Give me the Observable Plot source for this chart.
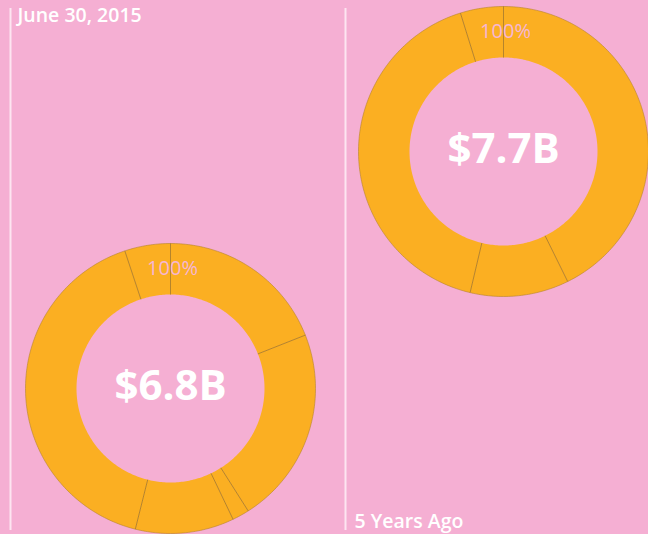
<!DOCTYPE html>
<html>
<head>
<meta charset="utf-8">
<script src="https://cdn.jsdelivr.net/npm/d3@7"></script>
<script src="https://cdn.jsdelivr.net/npm/@observablehq/plot@0.6"></script>
<style>
  html, body { margin: 0; padding: 0; background: #f5afd3; }
  #chart svg { display: block; }
</style>
</head>
<body>
<div id="chart"></div>
<script>
// ---- data ----
const panelLabels = ["June 30, 2015", "5 Years Ago"];
const totalLabels = ["$6.8B", "$7.7B"];
const shareLabel = "100%";
const sharesNow = [19.0, 22.0, 1.9, 11.0, 41.0, 5.1];     // % of ring, clockwise from top
const sharesPast = [42.7, 11.0, 41.5, 4.8];

// ---- layout ----
const W = 648, H = 534;
const centers = [{cx: 170, cy: 388}, {cx: 503, cy: 151}];
const rOuter = 145, rInner = 94;
const labelPos = [{x: 17, y: 15}, {x: 354, y: 521}];
const dividers = [10, 345];

const colors = {bg: "#f5afd3", slice: "#fbaf22", edge: "#b5842c", label: "#f6b6d5", rule: "#fde5f1"};

const seriesList = [sharesNow, sharesPast];
const pie = d3.pie().sort(null).value(d => d);

const polys = [], outline = [], seps = [], centerText = [], pctText = [], panelText = [];
seriesList.forEach((vals, p) => {
  const {cx, cy} = centers[p];
  const arcs = pie(vals);
  arcs.forEach((a, i) => {
    const n = Math.max(4, Math.ceil((a.endAngle - a.startAngle) * 60));
    const pts = [];
    for (let k = 0; k <= n; k++) {
      const t = a.startAngle + (a.endAngle - a.startAngle) * k / n;
      pts.push({x: cx + rOuter * Math.sin(t), y: cy - rOuter * Math.cos(t)});
    }
    for (let k = n; k >= 0; k--) {
      const t = a.startAngle + (a.endAngle - a.startAngle) * k / n;
      pts.push({x: cx + rInner * Math.sin(t), y: cy - rInner * Math.cos(t)});
    }
    pts.forEach(q => polys.push({...q, id: p + "-" + i}));
    seps.push({
      x1: cx + rInner * Math.sin(a.startAngle), y1: cy - rInner * Math.cos(a.startAngle),
      x2: cx + rOuter * Math.sin(a.startAngle), y2: cy - rOuter * Math.cos(a.startAngle)
    });
  });
  for (let k = 0; k <= 360; k++) {
    const t = k / 360 * 2 * Math.PI;
    outline.push({x: cx + rOuter * Math.sin(t), y: cy - rOuter * Math.cos(t), id: p});
  }
  centerText.push({x: cx, y: cy - 2, text: totalLabels[p]});
  pctText.push({x: cx + 2, y: cy - (rOuter + rInner) / 2, text: shareLabel});
  panelText.push({x: labelPos[p].x, y: labelPos[p].y, text: panelLabels[p]});
});

const chart = Plot.plot({
  width: W, height: H,
  margin: 0,
  x: {domain: [0, W], range: [0, W], axis: null},
  y: {domain: [0, H], range: [0, H], axis: null},
  style: {background: colors.bg, fontFamily: "Open Sans"},
  marks: [
    Plot.ruleX(dividers, {y1: 8, y2: 530, stroke: colors.rule, strokeWidth: 2}),
    Plot.line(polys, {x: "x", y: "y", z: "id", fill: colors.slice, stroke: null}),
    Plot.line(outline, {x: "x", y: "y", z: "id", stroke: colors.edge, strokeWidth: 0.6}),
    Plot.link(seps, {x1: "x1", y1: "y1", x2: "x2", y2: "y2", stroke: colors.edge, strokeWidth: 1}),
    Plot.text(pctText, {x: "x", y: "y", text: "text", fill: colors.label, fontSize: 20, fontFamily: "Open Sans"}),
    Plot.text(centerText, {x: "x", y: "y", text: "text", fill: "white", fontSize: 42, fontWeight: "bold", fontFamily: "Open Sans"}),
    Plot.text(panelText, {x: "x", y: "y", text: "text", fill: "white", fontSize: 19.5, fontWeight: 600, textAnchor: "start", fontFamily: "Open Sans"})
  ]
});
document.getElementById("chart").append(chart);
</script>
</body>
</html>
